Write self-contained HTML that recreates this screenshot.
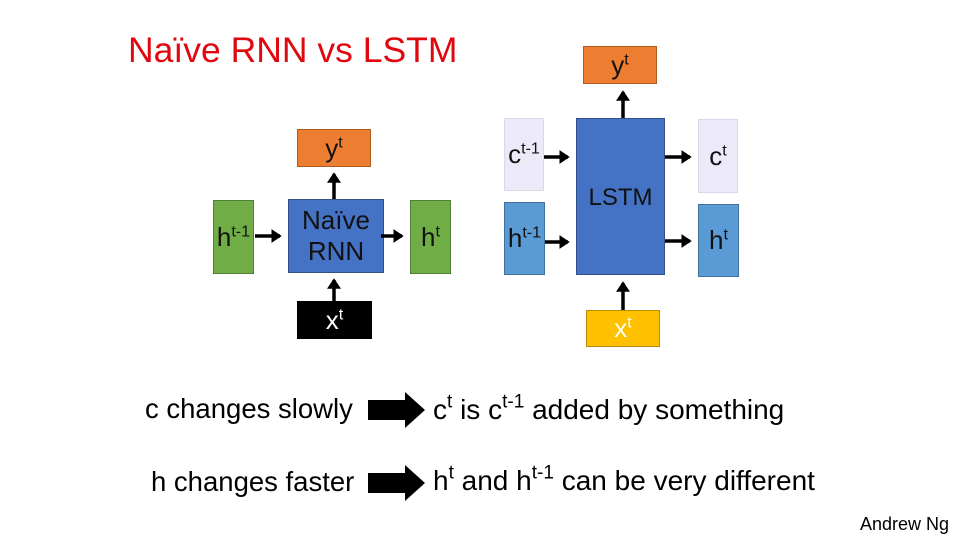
<!DOCTYPE html>
<html><head><meta charset="utf-8"><style>
body{margin:0;width:960px;height:540px;background:#fff;position:relative;overflow:hidden;font-family:"Liberation Sans",sans-serif}
.b{position:absolute;box-sizing:border-box;display:flex;align-items:center;justify-content:center;font-size:26px;color:#111}
sup{font-size:0.62em;vertical-align:0.6em;line-height:0}
.t{position:absolute;white-space:nowrap;font-size:28px;color:#000}
.t sup{font-size:0.68em}
</style></head><body>
<div class="t" style="left:128px;top:30px;font-size:35.5px;color:#e0070f">Naïve RNN vs LSTM</div>

<div class="b" style="left:297px;top:129px;width:74px;height:38px;background:#ed7d31;border:1px solid #ae5a21"><span>y<sup>t</sup></span></div>
<div class="b" style="left:213px;top:200px;width:41px;height:74px;background:#70ad47;border:1px solid #507e32"><span>h<sup>t-1</sup></span></div>
<div class="b" style="left:288px;top:199px;width:96px;height:74px;background:#4472c4;border:1px solid #2f528f;line-height:1.2;text-align:center"><span>Naïve<br>RNN</span></div>
<div class="b" style="left:410px;top:200px;width:41px;height:74px;background:#70ad47;border:1px solid #507e32"><span>h<sup>t</sup></span></div>
<div class="b" style="left:297px;top:301px;width:75px;height:38px;background:#000;color:#fff"><span>x<sup>t</sup></span></div>

<div class="b" style="left:583px;top:46px;width:74px;height:38px;background:#ed7d31;border:1px solid #ae5a21"><span>y<sup>t</sup></span></div>
<div class="b" style="left:504px;top:118px;width:40px;height:73px;background:#eceaf8;border:1px solid #d8d8e8"><span>c<sup>t-1</sup></span></div>
<div class="b" style="left:504px;top:202px;width:41px;height:73px;background:#5b9bd5;border:1px solid #41719c"><span>h<sup>t-1</sup></span></div>
<div class="b" style="left:576px;top:118px;width:89px;height:157px;background:#4472c4;border:1px solid #2f528f;font-size:24px"><span style="margin-top:2px">LSTM</span></div>
<div class="b" style="left:698px;top:119px;width:40px;height:74px;background:#eceaf8;border:1px solid #d8d8e8"><span>c<sup>t</sup></span></div>
<div class="b" style="left:698px;top:204px;width:41px;height:73px;background:#5b9bd5;border:1px solid #41719c"><span>h<sup>t</sup></span></div>
<div class="b" style="left:586px;top:310px;width:74px;height:37px;background:#ffc000;border:1px solid #bc8c00;color:#fff"><span>x<sup>t</sup></span></div>

<svg width="960" height="540" style="position:absolute;left:0;top:0">
<defs><marker id="a" markerWidth="4" markerHeight="4" refX="2.5" refY="2" orient="auto"><path d="M0,0L3,2L0,4z" fill="#000"/></marker></defs>
<g stroke="#000" stroke-width="3.5" marker-end="url(#a)">
<line x1="255" y1="236" x2="280" y2="236"/>
<line x1="334" y1="199" x2="334" y2="174"/>
<line x1="381" y1="236" x2="402" y2="236"/>
<line x1="334" y1="301" x2="334" y2="280"/>
<line x1="544" y1="157" x2="568" y2="157"/>
<line x1="545" y1="242" x2="568" y2="242"/>
<line x1="665" y1="157" x2="690" y2="157"/>
<line x1="665" y1="241" x2="690" y2="241"/>
<line x1="623" y1="118" x2="623" y2="92"/>
<line x1="623" y1="310" x2="623" y2="283"/>
</g>
<path d="M368,400H405V392L425,410L405,428V420H368Z" fill="#000"/>
<path d="M368,473H405V465L425,483L405,501V493H368Z" fill="#000"/>
</svg>

<div class="t" style="left:145px;top:393px;font-size:27.5px">c changes slowly</div>
<div class="t" style="left:433px;top:394px">c<sup>t</sup> is c<sup>t-1</sup> added by something</div>
<div class="t" style="left:151px;top:466px;font-size:27.5px">h changes faster</div>
<div class="t" style="left:433px;top:465px">h<sup>t</sup> and h<sup>t-1</sup> can be very different</div>
<div class="t" style="left:860px;top:514px;font-size:18px">Andrew Ng</div>
</body></html>
